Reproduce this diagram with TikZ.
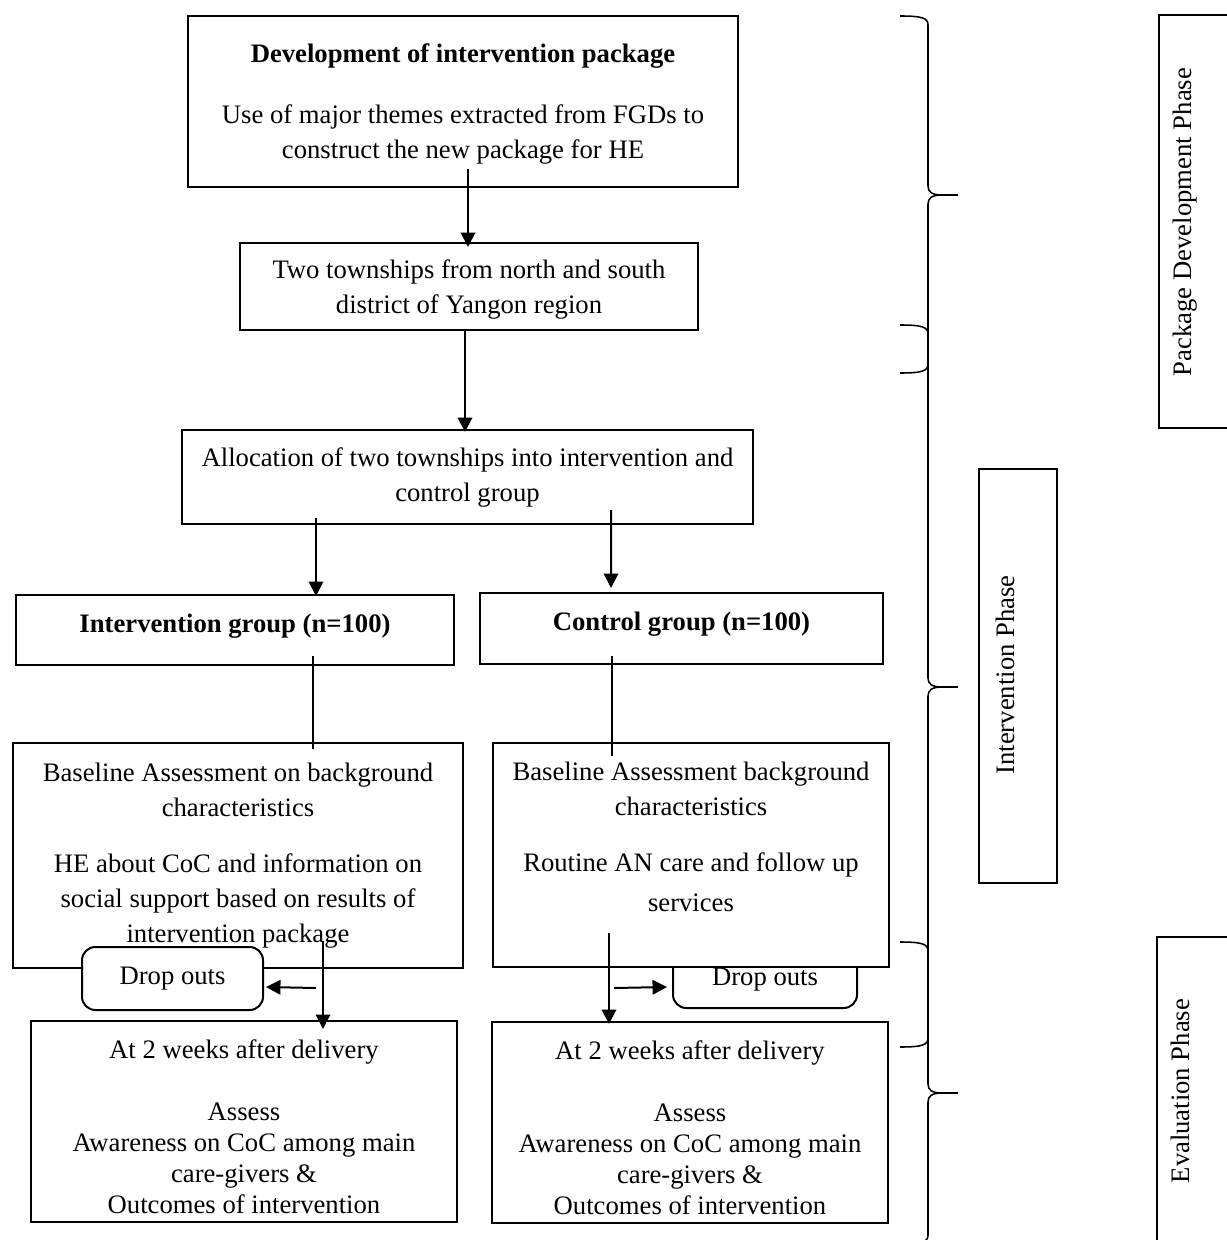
\documentclass[tikz,border=0pt]{standalone}
\usepackage{fontspec}
\setmainfont{Liberation Serif}
\usetikzlibrary{arrows.meta,calc}
\newcommand\boxfont{\fontsize{12pt}{15.75pt}\selectfont}
\newcommand\tightfont{\fontsize{12pt}{13.95pt}\selectfont}
\newcommand\phasebrace[3]{%
  \draw[bracestyle] (900,#1) .. controls (922,#1) and (928,#1+2) .. (928,#1+9) -- (928,#2-9)
    .. controls (928,#2-3) and (932,#2) .. (942,#2) -- (958,#2)
    (942,#2) .. controls (932,#2) and (928,#2+3) .. (928,#2+9) -- (928,#3-9)
    .. controls (928,#3-2) and (922,#3) .. (900,#3);}
\begin{document}
\begin{tikzpicture}[x=0.45pt,y=-0.45pt,
  box/.style={draw, line width=0.9pt, fill=white, inner sep=0pt, align=center, font=\boxfont},
  tightbox/.style={box, font=\tightfont},
  dropbox/.style={box, rounded corners=6pt},
  sidebox/.style={draw, line width=0.9pt, inner sep=0pt},
  phase/.style={inner sep=0pt, font=\boxfont, rotate=90},
  sz/.style 2 args={minimum width=#1*0.45pt, minimum height=#2*0.45pt},
  arr/.style={line width=0.9pt, -{Triangle[length=6.5pt,width=6.5pt]}},
  ln/.style={line width=0.9pt},
  bracestyle/.style={line width=0.7pt}]
\useasboundingbox (0,0) rectangle (1227,1240);
\clip (0,0) rectangle (1227,1240);

% main flow boxes
\node[box, sz={550}{171}] (dev) at (463,101.5)
  {\mbox{}\\[-5.1pt]\textbf{Development of intervention package}\\[11.7pt]Use of major themes extracted from FGDs to\\construct the new package for HE};
\node[box, sz={458}{87}] (town) at (469,286.5)
  {\mbox{}\\[-4.2pt]Two townships from north and south\\district of Yangon region};
\node[box, sz={571}{94}] (alloc) at (467.5,477)
  {Allocation of two townships into intervention and\\control group};
\node[box, sz={438}{70}] (ig) at (235,630)
  {\textbf{Intervention group (n=100)}\\[-9.5pt]\mbox{}};
\node[box, sz={403}{71}] (cg) at (681.5,628.5)
  {\textbf{Control group (n=100)}\\[-9pt]\mbox{}};
\node[box, sz={450}{225}] (bl) at (238,855.5)
  {Baseline Assessment on background\\characteristics\\[9.45pt]HE about CoC and information on\\social support based on results of\\intervention package};
\node[dropbox, sz={181}{63}] (dol) at (172.5,978.5) {Drop outs};
\node[dropbox, sz={184}{56}] (dor) at (765,980) {Drop outs};
\node[box, sz={396}{224}] (br) at (691,855)
  {Baseline Assessment background\\characteristics\\[9.45pt]Routine AN care and follow up\\[2.25pt]services\\[0.9pt]\mbox{}};
\node[tightbox, sz={426}{201}] (al) at (244,1121.5)
  {\mbox{}\\[-0.6pt]At 2 weeks after delivery\\[13.95pt]Assess\\Awareness on CoC among main\\care-givers \&\\Outcomes of intervention};
\node[tightbox, sz={396}{201}] (ar) at (690,1122.5)
  {\mbox{}\\[-0.6pt]At 2 weeks after delivery\\[13.95pt]Assess\\Awareness on CoC among main\\care-givers \&\\Outcomes of intervention};

% connectors
\draw[arr] ($(dev.south)+(5,-19)$) -- ($(town.north)+(-1,5)$);
\draw[arr] ($(town.south)+(-4,0)$) -- ($(alloc.north)+(-2.5,3)$);
\draw[arr] ($(alloc.south)+(-151.5,-7)$) -- ($(ig.north)+(81,2)$);
\draw[arr] ($(alloc.south)+(143.5,-15)$) -- ($(cg.north)+(-70.5,-4)$);
\draw[ln] ($(ig.south)+(78,-10)$) -- ($(bl.north)+(75,7)$);
\draw[ln] ($(cg.south)+(-69.5,-9)$) -- ($(br.north)+(-79,14)$);
\draw[arr] ($(bl.south)+(85,-28)$) -- ($(al.north)+(79,9)$);
\coordinate (jl) at ($(bl.south)+(78,19)$);
\draw[arr] (jl) -- ($(dol.east)+(2,8.5)$);
\draw[arr] ($(br.south)+(-82,-35)$) -- ($(ar.north)+(-81,3)$);
\coordinate (jr) at ($(br.south)+(-77,20)$);
\draw[arr] (jr) -- ($(dor.west)+(-5,7)$);

% phase braces
\phasebrace{16}{195}{373}
\phasebrace{325}{687}{1047}
\phasebrace{942}{1093}{1244}

% phase labels
\node[sidebox, sz={100}{413}] (pdpbox) at (1209,221.5) {};
\node[phase] (pdpt) at (1185,222) {Package Development Phase};
\node[sidebox, sz={78}{414}] (ipbox) at (1018,676) {};
\node[phase] (ipt) at (1005,675) {Intervention Phase};
\node[sidebox, sz={100}{320}] (epbox) at (1207,1097) {};
\node[phase] (ept) at (1180,1091) {Evaluation Phase};
\end{tikzpicture}
\end{document}
